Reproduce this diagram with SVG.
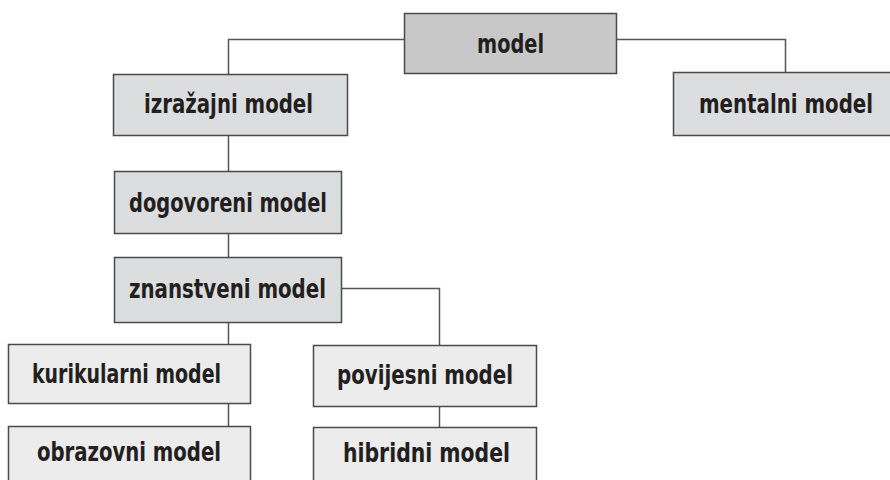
<svg xmlns="http://www.w3.org/2000/svg" width="890" height="480" viewBox="0 0 890 480">
<style>
.box{stroke:#4a4a4a;stroke-width:1.5}
.top{fill:#c8c8c9}
.mid{fill:#dcdddf}
.low{fill:#ececec}
text{font-family:"DejaVu Sans Condensed","Liberation Sans Narrow","Liberation Sans",sans-serif;font-weight:bold;font-size:26px;fill:#231f20;text-anchor:middle}
.conn{fill:none;stroke:#555;stroke-width:1.5}
</style>
<rect width="890" height="480" fill="#fff"/>
<g id="connectors">
<path class="conn" d="M404 39.5H228.5V74"/>
<path class="conn" d="M616 39.5H785.5V72"/>
<path class="conn" d="M228.5 135V171"/>
<path class="conn" d="M228.5 233V257"/>
<path class="conn" d="M228.5 322V344"/>
<path class="conn" d="M228.5 403V426"/>
<path class="conn" d="M341 288.5H439.5V345"/>
<path class="conn" d="M439.5 406V427"/>
</g>
<g id="n-model"><rect class="box top" x="404.5" y="13.5" width="212" height="60"/><text x="510.5" y="53" textLength="67" lengthAdjust="spacingAndGlyphs">model</text></g>
<g id="n-izrazajni"><rect class="box mid" x="113.5" y="74.5" width="234" height="61"/><text x="228.5" y="113" textLength="169" lengthAdjust="spacingAndGlyphs">izražajni model</text></g>
<g id="n-mentalni"><rect class="box mid" x="673.5" y="72.5" width="220" height="63"/><text x="786" y="113" textLength="174" lengthAdjust="spacingAndGlyphs">mentalni model</text></g>
<g id="n-dogovoreni"><rect class="box mid" x="114.5" y="171.5" width="227" height="62"/><text x="228" y="212" textLength="198" lengthAdjust="spacingAndGlyphs">dogovoreni model</text></g>
<g id="n-znanstveni"><rect class="box mid" x="114.5" y="257.5" width="227" height="65"/><text x="227.5" y="298" textLength="197" lengthAdjust="spacingAndGlyphs">znanstveni model</text></g>
<g id="n-kurikularni"><rect class="box low" x="8.5" y="344.5" width="242" height="59"/><text x="126.5" y="383" textLength="189" lengthAdjust="spacingAndGlyphs">kurikularni model</text></g>
<g id="n-obrazovni"><rect class="box low" x="8.5" y="426.5" width="242" height="60"/><text x="129" y="461" textLength="184" lengthAdjust="spacingAndGlyphs">obrazovni model</text></g>
<g id="n-povijesni"><rect class="box low" x="313.5" y="345.5" width="223" height="61"/><text x="425" y="384" textLength="176" lengthAdjust="spacingAndGlyphs">povijesni model</text></g>
<g id="n-hibridni"><rect class="box low" x="313.5" y="427.5" width="223" height="60"/><text x="426.5" y="462" textLength="167" lengthAdjust="spacingAndGlyphs">hibridni model</text></g>
</svg>
